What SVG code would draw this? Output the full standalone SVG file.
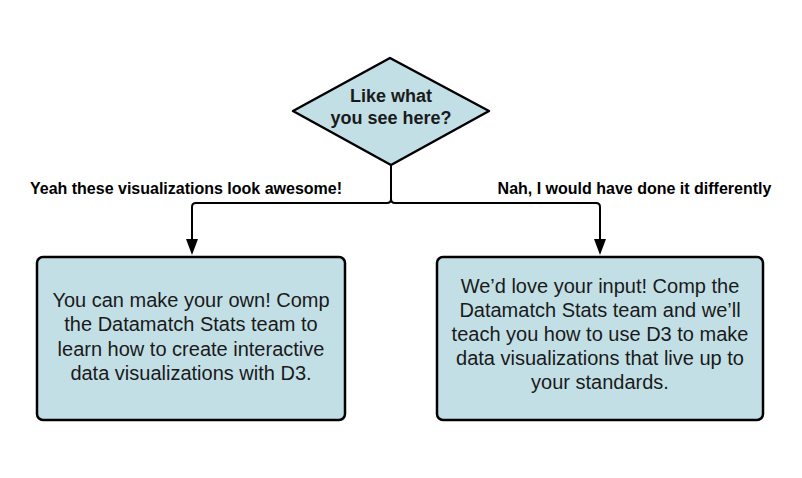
<svg xmlns="http://www.w3.org/2000/svg" width="802" height="478" viewBox="0 0 802 478">
<style>
.shape{fill:#c3dfe6;stroke:#000;stroke-width:2.5}
.body{font-family:"Liberation Sans",Arial,sans-serif;font-size:20px;fill:#1a1a1a;text-anchor:middle}
.q{font-family:"Liberation Sans",Arial,sans-serif;font-size:18px;font-weight:bold;fill:#1a1a1a;text-anchor:middle}
.lbl{font-family:"Liberation Sans",Arial,sans-serif;font-size:16px;font-weight:bold;fill:#000;text-anchor:middle}
.edge{fill:none;stroke:#000;stroke-width:2}
</style>
<defs>
<marker id="arrow" markerUnits="userSpaceOnUse" markerWidth="12" markerHeight="16" viewBox="0 0 12 16" refX="6" refY="16" orient="auto-start-reverse">
<path d="M0,0 L12,0 L6,16 Z" fill="#000"/>
</marker>
</defs>
<rect width="802" height="478" fill="#fff"/>
<g id="connectors">
<path class="edge" d="M391,165 V199 Q391,203 387,203 H196 Q192,203 192,207 V239"/>
<polygon points="186,239 198,239 192,255" fill="#000"/>
<path class="edge" d="M391,165 V199 Q391,203 395,203 H596 Q600,203 600,207 V239"/>
<polygon points="594,239 606,239 600,255" fill="#000"/>
<text class="lbl" x="186" y="194">Yeah these visualizations look awesome!</text>
<text class="lbl" x="634.5" y="194">Nah, I would have done it differently</text>
</g>
<g id="decision">
<path class="shape" stroke-linejoin="round" d="M390,58 L489,111 L391,165 L293,111 Z"/>
<text class="q" x="391" y="102">Like what</text>
<text class="q" x="391" y="124">you see here?</text>
</g>
<g id="yes-box">
<rect class="shape" x="37" y="257" width="308" height="163" rx="6"/>
<text class="body" x="191" y="307">You can make your own! Comp</text>
<text class="body" x="191" y="331">the Datamatch Stats team to</text>
<text class="body" x="191" y="356">learn how to create interactive</text>
<text class="body" x="191" y="380">data visualizations with D3.</text>
</g>
<g id="no-box">
<rect class="shape" x="437" y="257" width="326" height="163" rx="6"/>
<text class="body" x="600" y="293">We’d love your input! Comp the</text>
<text class="body" x="600" y="317">Datamatch Stats team and we’ll</text>
<text class="body" x="600" y="341">teach you how to use D3 to make</text>
<text class="body" x="600" y="365">data visualizations that live up to</text>
<text class="body" x="600" y="389">your standards.</text>
</g>
</svg>
